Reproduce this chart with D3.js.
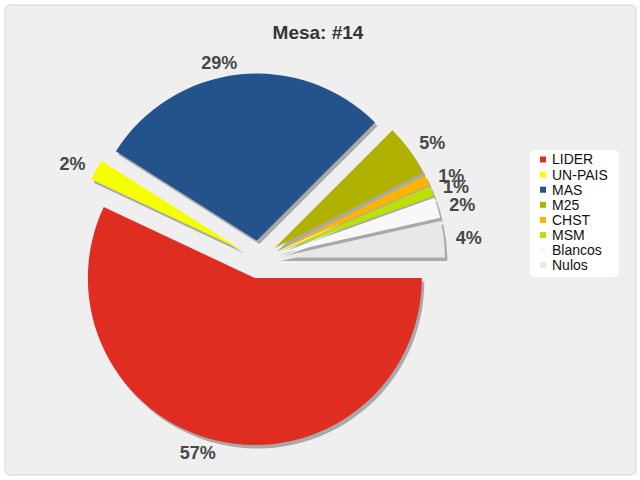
<!DOCTYPE html>
<html>
<head>
<meta charset="utf-8">
<script src="https://cdn.jsdelivr.net/npm/d3@7"></script>
<style>
  body { margin: 0; background: #fff; }
  svg { display: block; font-family: "Liberation Sans", Arial, sans-serif; }
</style>
</head>
<body>
<svg id="chart" width="640" height="480"></svg>
<script>
// data
const title = "Mesa: #14";
const categories = ["LIDER", "UN-PAIS", "MAS", "M25", "CHST", "MSM", "Blancos", "Nulos"];
const votes = [114, 4, 57, 10, 2, 2, 4, 7];
const colors = ["#e02d22", "#f5ff00", "#23538a", "#b1b200", "#ffb400", "#bee000", "#f8f8f8", "#e8e8e8"];

const width = 640, height = 480;
const cx = 259, cy = 259.5;
const radius = 167;
const explode = 19;
const labelRadius = radius + 12;

const svg = d3.select("#chart");

// frame
svg.append("rect")
  .attr("x", 5).attr("y", 5)
  .attr("width", 631).attr("height", 470)
  .attr("rx", 5)
  .attr("fill", "#efefef")
  .attr("stroke", "#e0e0e0")
  .attr("stroke-width", 1.5);

svg.append("text")
  .attr("x", 318).attr("y", 39)
  .attr("text-anchor", "middle")
  .attr("font-size", 19)
  .attr("font-weight", "bold")
  .attr("fill", "#353535")
  .text(title);

const data = categories.map((c, i) => ({ name: c, value: votes[i] }));
const total = d3.sum(votes);

const color = d3.scaleOrdinal().domain(categories).range(colors);

const pie = d3.pie()
  .sort(null)
  .value(d => d.value)
  .startAngle(Math.PI / 2)
  .endAngle(Math.PI / 2 + 2 * Math.PI);

const arcs = pie(data);
const arc = d3.arc().innerRadius(0).outerRadius(radius);

const mid = d => (d.startAngle + d.endAngle) / 2;
const dir = d => [Math.sin(mid(d)), -Math.cos(mid(d))];

const g = svg.append("g").attr("transform", `translate(${cx},${cy})`);

const slice = g.selectAll(".slice")
  .data(arcs)
  .join("g")
  .attr("class", "slice")
  .attr("transform", d => {
    const [dx, dy] = dir(d);
    return `translate(${dx * explode},${dy * explode})`;
  });

slice.append("path")
  .attr("d", arc)
  .attr("transform", "translate(2.5,3.5)")
  .attr("fill", "#a9a9a9");

slice.append("path")
  .attr("d", arc)
  .attr("fill", d => color(d.data.name));

// index labels
slice.append("text")
  .attr("x", d => dir(d)[0] * labelRadius)
  .attr("y", d => dir(d)[1] * labelRadius)
  .attr("dy", "0.35em")
  .attr("text-anchor", d => dir(d)[0] >= 0 ? "start" : "end")
  .attr("font-size", 18)
  .attr("font-weight", "bold")
  .attr("fill", "#474747")
  .text(d => Math.round(d.data.value * 100 / total) + "%");

// legend
const legendX = 530, legendY = 150, rowH = 15.1;
const legend = svg.append("g").attr("transform", `translate(${legendX},${legendY})`);

legend.append("rect")
  .attr("width", 89).attr("height", 127)
  .attr("rx", 5)
  .attr("fill", "#ffffff");

const item = legend.selectAll(".item")
  .data(categories)
  .join("g")
  .attr("class", "item")
  .attr("transform", (d, i) => `translate(0,${9.5 + i * rowH})`);

item.append("rect")
  .attr("x", 10).attr("y", -3)
  .attr("width", 6).attr("height", 6)
  .attr("fill", d => color(d));

item.append("text")
  .attr("x", 22)
  .attr("dy", "0.35em")
  .attr("font-size", 14)
  .attr("fill", "#111")
  .text(d => d);
</script>
</body>
</html>
